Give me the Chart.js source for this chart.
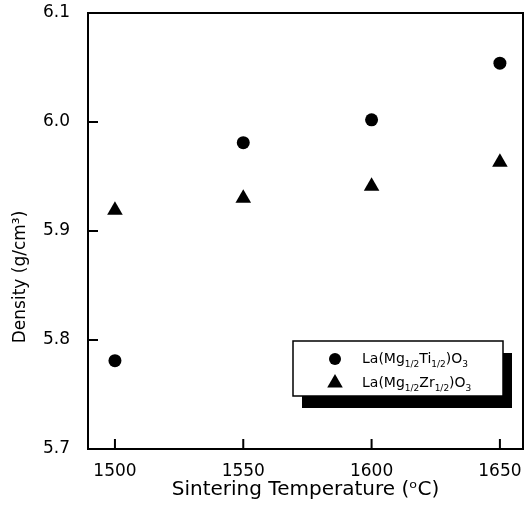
<!DOCTYPE html>
<html>
<head>
<meta charset="utf-8">
<script src="https://cdn.jsdelivr.net/npm/chart.js@4/dist/chart.umd.min.js"></script>
<style>
    html, body { margin: 0; padding: 0; background: #fff; }
    #wrap { width: 526px; height: 516px; position: relative; }
</style>
</head>
<body>
<div id="wrap"><canvas id="densityChart"></canvas></div>
<script>
    // Chart values
    const temperatures = [1500, 1550, 1600, 1650];
    const densityTi = [5.781, 5.981, 6.002, 6.054];
    const densityZr = [5.919, 5.930, 5.941, 5.963];
    const xTicks = [1500, 1550, 1600, 1650];
    const yTicks = [5.7, 5.8, 5.9, 6.0, 6.1];
    const xTitle = 'Sintering Temperature (\u1D52C)';
    const yTitle = 'Density (g/cm\u00B3)';
    const legendRows = [
        { style: 'circle', parts: [['La(Mg', 0], ['1/2', 1], ['Ti', 0], ['1/2', 1], [')O', 0], ['3', 1]] },
        { style: 'triangle', parts: [['La(Mg', 0], ['1/2', 1], ['Zr', 0], ['1/2', 1], [')O', 0], ['3', 1]] }
    ];

    const FONT = '"DejaVu Sans", "Liberation Sans", Arial, sans-serif';

    /**
     * Draws frame, inward ticks, y title and the boxed legend with subscripts
     */
    const framePlugin = {
        id: 'frame',
        afterDraw(chart) {
            const ctx = chart.ctx;
            const a = chart.chartArea;
            const xs = chart.scales.x;
            const ys = chart.scales.y;
            ctx.save();
            ctx.strokeStyle = '#000';
            ctx.lineWidth = 2;
            ctx.strokeRect(a.left, a.top, a.right - a.left, a.bottom - a.top);

            // inward tick marks
            ctx.beginPath();
            xTicks.forEach(function(v) {
                const px = xs.getPixelForValue(v);
                ctx.moveTo(px, a.bottom);
                ctx.lineTo(px, a.bottom - 10);
            });
            yTicks.forEach(function(v) {
                const py = ys.getPixelForValue(v);
                ctx.moveTo(a.left, py);
                ctx.lineTo(a.left + 10, py);
            });
            ctx.stroke();

            // y axis title
            ctx.fillStyle = '#000';
            ctx.font = '17px ' + FONT;
            ctx.textAlign = 'center';
            ctx.textBaseline = 'middle';
            ctx.translate(21, 277);
            ctx.rotate(-Math.PI / 2);
            ctx.fillText(yTitle, 0, 0);
            ctx.restore();

            // legend box with shadow
            ctx.save();
            const bx = 293, by = 341, bw = 210, bh = 55;
            ctx.fillStyle = '#000';
            ctx.fillRect(bx + 9, by + 12, bw, bh);
            ctx.fillStyle = '#fff';
            ctx.fillRect(bx, by, bw, bh);
            ctx.strokeStyle = '#000';
            ctx.lineWidth = 1.5;
            ctx.strokeRect(bx, by, bw, bh);

            legendRows.forEach(function(row, i) {
                const cy = 359 + i * 24;
                const mx = 335;
                ctx.fillStyle = '#000';
                ctx.beginPath();
                if (row.style === 'circle') {
                    ctx.arc(mx, cy, 6, 0, Math.PI * 2);
                } else {
                    const r = 9;
                    ctx.moveTo(mx, cy - r);
                    ctx.lineTo(mx + r * 0.866, cy + r / 2);
                    ctx.lineTo(mx - r * 0.866, cy + r / 2);
                    ctx.closePath();
                }
                ctx.fill();

                let tx = 362;
                const base = cy + 4;
                ctx.textAlign = 'left';
                ctx.textBaseline = 'alphabetic';
                row.parts.forEach(function(p) {
                    ctx.font = (p[1] ? '9px ' : '14px ') + FONT;
                    ctx.fillText(p[0], tx, base + (p[1] ? 4 : 0));
                    tx += ctx.measureText(p[0]).width;
                });
            });
            ctx.restore();
        }
    };

    const ctx = document.getElementById('densityChart').getContext('2d');
    const densityChart = new Chart(ctx, {
        type: 'scatter',
        data: {
            datasets: [{
                label: 'La(Mg1/2Ti1/2)O3',
                data: temperatures.map((t, i) => ({ x: t, y: densityTi[i] })),
                pointStyle: 'circle',
                pointRadius: 6.5,
                backgroundColor: '#000',
                borderColor: '#000',
                borderWidth: 0
            }, {
                label: 'La(Mg1/2Zr1/2)O3',
                data: temperatures.map((t, i) => ({ x: t, y: densityZr[i] })),
                pointStyle: 'triangle',
                pointRadius: 9,
                backgroundColor: '#000',
                borderColor: '#000',
                borderWidth: 0
            }]
        },
        options: {
            responsive: true,
            maintainAspectRatio: false,
            animation: false,
            layout: {
                autoPadding: false,
                padding: { top: 13, right: 3, left: 0, bottom: 0 }
            },
            plugins: {
                legend: { display: false },
                tooltip: { enabled: false }
            },
            scales: {
                x: {
                    type: 'linear',
                    min: 1489.5,
                    max: 1659,
                    afterBuildTicks: s => { s.ticks = xTicks.map(v => ({ value: v })); },
                    afterFit: s => {
                        s.height = 67;
                        s.paddingLeft = 0;
                        s.paddingRight = 0;
                    },
                    border: { display: true, color: '#000', width: 2 },
                    grid: { display: false },
                    ticks: {
                        color: '#000',
                        padding: 4,
                        maxRotation: 0,
                        callback: v => String(v),
                        font: { family: FONT, size: 17 }
                    },
                    title: {
                        display: true,
                        text: xTitle,
                        color: '#000',
                        padding: { top: 0, bottom: 14 },
                        font: { family: FONT, size: 20 }
                    }
                },
                y: {
                    min: 5.7,
                    max: 6.1,
                    afterBuildTicks: s => { s.ticks = yTicks.map(v => ({ value: v })); },
                    afterFit: s => {
                        s.width = 88;
                        s.paddingTop = 0;
                        s.paddingBottom = 0;
                    },
                    border: { display: true, color: '#000', width: 2 },
                    grid: { display: false },
                    ticks: {
                        color: '#000',
                        padding: 10,
                        callback: v => v.toFixed(1),
                        font: { family: FONT, size: 17 }
                    }
                }
            }
        },
        plugins: [framePlugin]
    });
</script>
</body>
</html>
